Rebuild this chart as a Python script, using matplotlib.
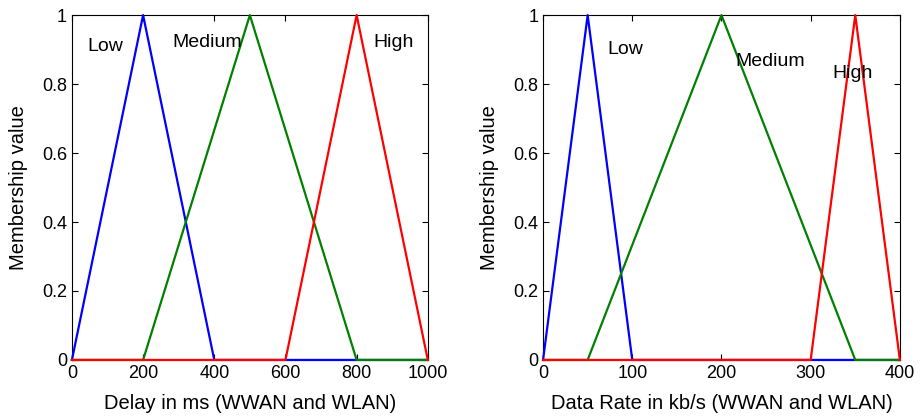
import numpy as np
import matplotlib.pyplot as plt

plt.rcParams['font.family'] = ['Liberation Sans', 'DejaVu Sans']

# membership functions (triangles): a, peak, c
delay_range = [0, 1000]
delay_mf = {"Low": [0, 200, 400], "Medium": [200, 500, 800], "High": [600, 800, 1000]}
delay_text = {"Low": (93, 0.91), "Medium": (380, 0.92), "High": (905, 0.92)}

rate_range = [0, 400]
rate_mf = {"Low": [0, 50, 100], "Medium": [50, 200, 350], "High": [300, 350, 400]}
rate_text = {"Low": (92, 0.90), "Medium": (255, 0.865), "High": (347, 0.83)}

colors = {"Low": "#0000ff", "Medium": "#008000", "High": "#ff0000"}


def trimf(x, abc):
    a, b, c = abc
    return np.maximum(np.minimum((x - a) / (b - a), (c - x) / (c - b)), 0)


def draw(ax, xr, mfs, texts, xticks, xlabel):
    x = np.linspace(xr[0], xr[1], 2001)
    for name in ["Low", "Medium", "High"]:
        ax.plot(x, trimf(x, mfs[name]), color=colors[name], lw=1.6,
                clip_on=False, zorder=3)
        tx, ty = texts[name]
        ax.text(tx, ty, name, ha="center", va="center", fontsize=14)
    ax.set_xlim(xr)
    ax.set_ylim(0, 1)
    ax.set_xticks(xticks)
    ax.set_yticks([0, 0.2, 0.4, 0.6, 0.8, 1])
    ax.set_yticklabels(["0", "0.2", "0.4", "0.6", "0.8", "1"])
    ax.tick_params(direction="in", top=True, right=True, labelsize=13, length=4)
    ax.set_xlabel(xlabel, fontsize=14.5, labelpad=9)
    ax.set_ylabel("Membership value", fontsize=14.5, labelpad=10)


fig = plt.figure(figsize=(9.22, 4.2), dpi=100)
ax1 = fig.add_axes([0.078, 0.143, 0.386, 0.821])
ax2 = fig.add_axes([0.589, 0.143, 0.387, 0.821])

draw(ax1, delay_range, delay_mf, delay_text, [0, 200, 400, 600, 800, 1000],
     "Delay in ms (WWAN and WLAN)")
draw(ax2, rate_range, rate_mf, rate_text, [0, 100, 200, 300, 400],
     "Data Rate in kb/s (WWAN and WLAN)")

fig.savefig("out.png", dpi=100)
